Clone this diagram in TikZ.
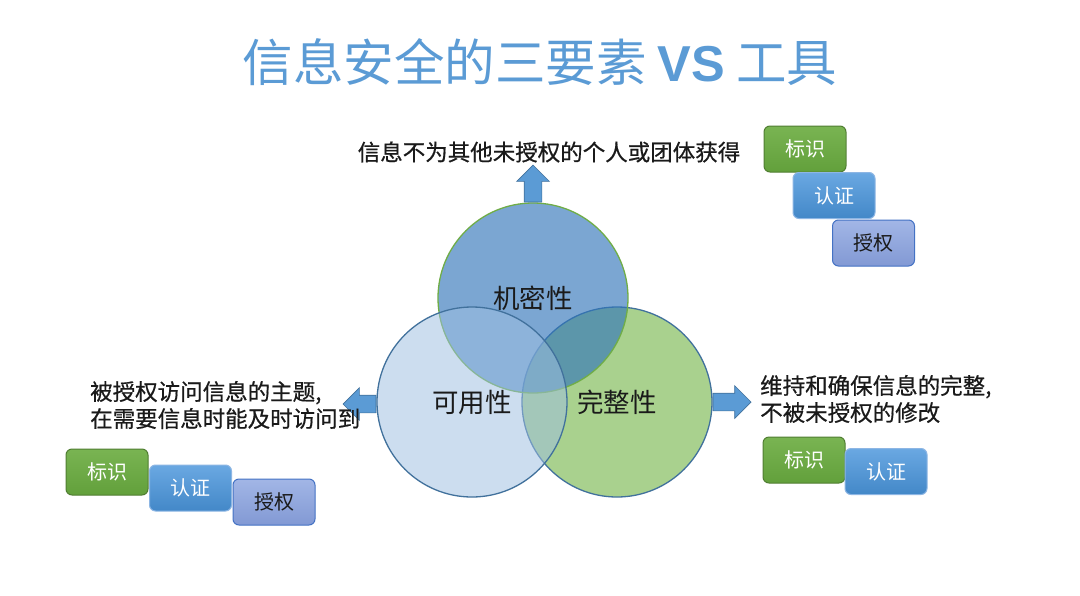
\documentclass[tikz,border=0pt]{standalone}
\usepackage{fontspec}
\setmainfont{Noto Sans CJK SC}
\newfontfamily\notefont[FakeBold=0.6]{Noto Sans CJK SC}
\newfontfamily\latinsans{Liberation Sans}
\usetikzlibrary{shapes.arrows,positioning}
\definecolor{TitleBlue}{HTML}{5B9BD5}
\definecolor{TextInk}{HTML}{1A1A1A}
\definecolor{RingBlue}{HTML}{41719C}
\definecolor{RingGreen}{HTML}{70AD47}
\definecolor{ConfFill}{HTML}{3175BA}
\definecolor{AvailFill}{HTML}{9FBFE2}
\definecolor{IntegFill}{HTML}{A9D18E}
\definecolor{ArrowBlue}{HTML}{5B9BD5}
\definecolor{IdTop}{HTML}{79B452}
\definecolor{IdBottom}{HTML}{62A03B}
\definecolor{IdEdge}{HTML}{507E32}
\definecolor{AuthTop}{HTML}{6AA8E2}
\definecolor{AuthBottom}{HTML}{4388C8}
\definecolor{AuthEdge}{HTML}{8DB6E4}
\definecolor{PermTop}{HTML}{A2B6E6}
\definecolor{PermBottom}{HTML}{8299D4}
\definecolor{PermEdge}{HTML}{4472C4}

\begin{document}
\begin{tikzpicture}[
    x=1pt, y=1pt,
    ring/.style={
      circle,
      minimum size=190pt,
      inner sep=0pt,
      line width=1.3pt,
      text=TextInk,
      text opacity=1,
      font=\fontsize{26.5}{30}\selectfont
    },
    blockarrow/.style={
      single arrow,
      draw=RingBlue,
      fill=ArrowBlue,
      line width=0.7pt,
      inner xsep=0pt,
      inner ysep=8.5pt,
      minimum width=32pt,
      single arrow head extend=7.5pt
    },
    note/.style={text=TextInk, align=left, inner sep=0pt, font=\notefont\fontsize{22.5}{27}\selectfont},
    toolbox/.style={
      rounded corners=6pt,
      minimum width=82pt,
      minimum height=46pt,
      inner sep=0pt,
      line width=1pt,
      font=\fontsize{20}{24}\selectfont
    },
    idbox/.style={toolbox, draw=IdEdge, top color=IdTop, bottom color=IdBottom, text=white},
    authbox/.style={toolbox, draw=AuthEdge, top color=AuthTop, bottom color=AuthBottom, text=white},
    permbox/.style={toolbox, draw=PermEdge, top color=PermTop, bottom color=PermBottom, text=TextInk}
  ]
    \useasboundingbox[fill=white] (0,0) rectangle (1080,-595);

    \node[text=TitleBlue, font=\fontsize{50.5}{56}\selectfont] (title) at (540,-62)
      {信息安全的三要素 {\latinsans\bfseries VS} 工具};

    % the three circles
    \node[ring, draw=RingBlue, fill=IntegFill] (integ) at (617,-402) {\hspace*{0pt}};
    \node[ring, draw=RingGreen, fill=ConfFill, fill opacity=0.64] (conf) at (533,-298) {机密性};
    \node[ring, draw=RingBlue, fill=AvailFill, fill opacity=0.52] (avail) at (472,-402) {可用性};
    \node[font=\fontsize{26.5}{30}\selectfont, text=TextInk] (integlabel) at (integ) {完整性};

    \node[blockarrow, rotate=90, anchor=tail, minimum height=37pt] (upArrow) at (conf.north) {};
    \node[blockarrow, rotate=180, anchor=tail, minimum height=33pt] (leftArrow) at ([yshift=-2pt]avail.west) {};
    \node[blockarrow, anchor=tail, minimum height=38pt] (rightArrow) at (integ.east) {};

    \node[note] (confnote) at (549,-152) {信息不为其他未授权的个人或团体获得};
    \node[note, anchor=west] (availnote) at (90,-405) {被授权访问信息的主题,\\在需要信息时能及时访问到};
    \node[note, anchor=west] (integnote) at (760,-399) {维持和确保信息的完整,\\不被未授权的修改};

    % tools
    \node[idbox] (idTop) at (805,-149) {标识};
    \node[authbox] (authTop) at (834,-195.5) {认证};
    \node[permbox] (permTop) at (873.5,-243) {授权};

    \node[idbox] (idLeft) at (107,-472) {标识};
    \node[authbox] (authLeft) at (190.5,-488) {认证};
    \node[permbox] (permLeft) at (274,-502) {授权};

    \node[idbox] (idRight) at (804,-460) {标识};
    \node[authbox] (authRight) at (886,-471.5) {认证};
  \end{tikzpicture}
\end{document}
